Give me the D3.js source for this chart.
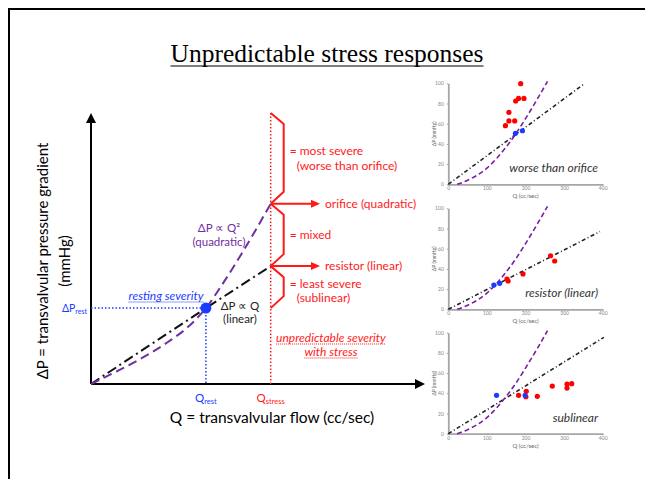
<!DOCTYPE html>
<html>
<head>
<meta charset="utf-8">
<script src="https://cdn.jsdelivr.net/npm/d3@7"></script>
<style>
  body { margin: 0; background: #fff; }
  svg { display: block; font-family: Lato, "Open Sans", sans-serif; }
</style>
</head>
<body>
<div id="chart"></div>
<script>
// ---- main schematic values (arbitrary units 0..100) ----
var qRest = 34.4, qStress = 53.8, pRest = 28;
var linearLine = [[0, 0], [34.4, 28], [53.8, 43.5]];
var quadCurve = [[0, 0], [7.6, 4.6], [15.3, 9.6], [22.9, 15.4], [29, 21], [34.4, 28], [39.7, 37.5], [45.8, 49.5], [53.8, 66.5]];
var braceBounds = [100, 66.5, 43.5, 28];
var braceLabels = [["= most severe", "(worse than orifice)"], ["= mixed"], ["= least severe", "(sublinear)"]];
var arrowLabels = ["orifice (quadratic)", "resistor (linear)"];

// ---- small patient panels (Q cc/sec, dP mmHg) ----
var panelNames = ["worse than orifice", "resistor (linear)", "sublinear"];
var restPoints = [
  [[174, 50.5], [192, 53]],
  [[118, 24], [133, 25.7]],
  [[125, 38], [199, 38]]
];
var stressPoints = [
  [[187.5, 99.6], [182, 85], [196, 85], [174.5, 82.5], [157, 71.3], [157, 62.7], [172, 62.7], [148, 58]],
  [[152, 30], [155, 28], [193.5, 35], [265, 53], [275.6, 47.8]],
  [[182, 38], [202, 42], [201, 36.6], [230.6, 37], [269.4, 47.2], [307.5, 49.2], [307.5, 45.2], [319.7, 49.5]]
];
var linearEnds = [[354, 100], [393, 77], [403, 95.4]];
var quadPoints = [[23, 0], [50, 4], [100, 16], [150, 37], [175, 50], [200, 65], [230, 84], [257, 102]];
var xTicks = [0, 100, 200, 300, 400];
var yTicks = [0, 20, 40, 60, 80, 100];

var W = 645, H = 479;
var red = "#ff1a1a", blue = "#1a3cff", purple = "#7030a0";

var svg = d3.select("#chart").append("svg")
  .attr("width", W).attr("height", H);

// slide frame
svg.append("path")
  .attr("d", "M9,479 V9 H645")
  .attr("fill", "none").attr("stroke", "#000").attr("stroke-width", 2);

// title
var title = svg.append("text")
  .attr("x", 327).attr("y", 62)
  .attr("text-anchor", "middle")
  .style("font-family", "'Liberation Serif', serif")
  .style("font-size", "25.5px")
  .text("Unpredictable stress responses");
var tw = title.node().getComputedTextLength();
svg.append("line")
  .attr("x1", 327 - tw / 2).attr("x2", 327 + tw / 2)
  .attr("y1", 66).attr("y2", 66)
  .attr("stroke", "#000").attr("stroke-width", 1.2);

// ---- main chart ----
var x = d3.scaleLinear().domain([0, 100]).range([91, 425]);
var y = d3.scaleLinear().domain([0, 100]).range([384, 113]);
var g = svg.append("g");

// arrows (axes)
g.append("line").attr("x1", x(0)).attr("y1", y(0)).attr("x2", x(0)).attr("y2", y(100) + 8)
  .attr("stroke", "#000").attr("stroke-width", 2);
g.append("path").attr("d", "M" + x(0) + "," + y(100) + " l-5,10 h10 z");
g.append("line").attr("x1", x(0)).attr("y1", y(0)).attr("x2", x(100) - 8).attr("y2", y(0))
  .attr("stroke", "#000").attr("stroke-width", 2);
g.append("path").attr("d", "M" + x(100) + "," + y(0) + " l-10,-5 v10 z");

// axis titles
g.append("text").attr("x", 272).attr("y", 423).attr("text-anchor", "middle")
  .style("font-size", "15.5px").text("Q = transvalvular flow (cc/sec)");
g.append("text").attr("transform", "translate(48,261) rotate(-90)").attr("text-anchor", "middle")
  .style("font-size", "15px").text("ΔP = transvalvular pressure gradient");
g.append("text").attr("transform", "translate(70,261) rotate(-90)").attr("text-anchor", "middle")
  .style("font-size", "15px").text("(mmHg)");

var line = d3.line().x(function(d) { return x(d[0]); }).y(function(d) { return y(d[1]); });

// rest guides
g.append("line").attr("x1", x(0)).attr("x2", x(qRest)).attr("y1", y(pRest)).attr("y2", y(pRest))
  .attr("stroke", blue).attr("stroke-width", 1.5).attr("stroke-dasharray", "1.5,2");
g.append("line").attr("x1", x(qRest)).attr("x2", x(qRest)).attr("y1", y(pRest)).attr("y2", y(0))
  .attr("stroke", blue).attr("stroke-width", 1.5).attr("stroke-dasharray", "1.5,2");

// stress line
g.append("line").attr("x1", x(qStress)).attr("x2", x(qStress)).attr("y1", y(100)).attr("y2", y(0))
  .attr("stroke", red).attr("stroke-width", 1.5).attr("stroke-dasharray", "1.5,2");

// curves
g.append("path").datum(linearLine).attr("d", line)
  .attr("fill", "none").attr("stroke", "#111").attr("stroke-width", 2)
  .attr("stroke-dasharray", "10,4,2,4");
g.append("path").datum(quadCurve).attr("d", line.curve(d3.curveMonotoneX))
  .attr("fill", "none").attr("stroke", purple).attr("stroke-width", 2)
  .attr("stroke-dasharray", "9,5");

g.append("circle").attr("cx", x(qRest)).attr("cy", y(pRest)).attr("r", 5.5).attr("fill", blue);

// curve labels
g.append("text").attr("x", 219).attr("y", 232).attr("text-anchor", "middle").attr("fill", purple)
  .style("font-size", "11.5px").text("ΔP ∝ Q²");
g.append("text").attr("x", 219).attr("y", 246).attr("text-anchor", "middle").attr("fill", purple)
  .style("font-size", "11.5px").text("(quadratic)");
g.append("text").attr("x", 240).attr("y", 310).attr("text-anchor", "middle").attr("fill", "#222")
  .style("font-size", "11.5px").text("ΔP ∝ Q");
g.append("text").attr("x", 240).attr("y", 323).attr("text-anchor", "middle").attr("fill", "#222")
  .style("font-size", "11.5px").text("(linear)");

// rest labels
function underlined(txt, cx, cy, color, anchor) {
  var t = g.append("text").attr("x", cx).attr("y", cy).attr("text-anchor", anchor || "middle")
    .attr("fill", color).style("font-size", "12px").style("font-style", "italic").text(txt);
  var b = t.node().getBBox();
  g.append("line").attr("x1", b.x).attr("x2", b.x + b.width).attr("y1", cy + 2).attr("y2", cy + 2)
    .attr("stroke", color).attr("stroke-width", 1).attr("stroke-dasharray", "1,1");
}
underlined("resting severity", 166, 300, blue);

var lp = g.append("text").attr("x", 87).attr("y", 312).attr("text-anchor", "end").attr("fill", blue)
  .style("font-size", "10.5px");
lp.append("tspan").text("ΔP");
lp.append("tspan").attr("dy", 2).style("font-size", "7px").text("rest");

var lq = g.append("text").attr("x", x(qRest)).attr("y", 402).attr("text-anchor", "middle").attr("fill", blue)
  .style("font-size", "11.5px");
lq.append("tspan").text("Q");
lq.append("tspan").attr("dy", 2).style("font-size", "7.5px").text("rest");

var ls = g.append("text").attr("x", x(qStress)).attr("y", 402).attr("text-anchor", "middle").attr("fill", red)
  .style("font-size", "11.5px");
ls.append("tspan").text("Q");
ls.append("tspan").attr("dy", 2).style("font-size", "7.5px").text("stress");

// braces
var xs = x(qStress);
var labelShift = [0, 0, 4];
braceLabels.forEach(function(lines, i) {
  var y0 = y(braceBounds[i]), y1 = y(braceBounds[i + 1]);
  g.append("path")
    .attr("d", "M" + xs + "," + y0 + " L" + (xs + 13) + "," + (y0 + 11) + " V" + (y1 - 12) + " L" + xs + "," + y1)
    .attr("fill", "none").attr("stroke", red).attr("stroke-width", 2);
  var mid = (y0 + y1) / 2 + labelShift[i];
  lines.forEach(function(s, j) {
    g.append("text")
      .attr("x", j === 0 ? xs + 19 : xs + 26)
      .attr("y", mid + 4 + (j - (lines.length - 1) / 2) * 14.5)
      .attr("fill", red).style("font-size", "12px").text(s);
  });
});
// arrows to labels
arrowLabels.forEach(function(s, i) {
  var yy = y(braceBounds[i + 1]);
  g.append("line").attr("x1", xs).attr("x2", 313).attr("y1", yy).attr("y2", yy)
    .attr("stroke", red).attr("stroke-width", 2);
  g.append("path").attr("d", "M320," + yy + " l-9,-4 v8 z").attr("fill", red);
  g.append("text").attr("x", 325).attr("y", yy + 4).attr("fill", red).style("font-size", "12px").text(s);
});
underlined("unpredictable severity", 331, 342, red);
underlined("with stress", 331, 356, red);

// ---- small panels ----
var px = d3.scaleLinear().domain([0, 400]).range([448.3, 602.7]);
var bottoms = [184.3, 309.3, 433.7];

bottoms.forEach(function(b, k) {
  var py = d3.scaleLinear().domain([0, 100]).range([b, b - 101]);
  var p = svg.append("g");

  p.append("g").attr("transform", "translate(0," + b + ")")
    .call(d3.axisBottom(px).tickValues(xTicks).tickSize(1.5).tickSizeOuter(0))
    .call(function(a) {
      a.select(".domain").attr("stroke", "#a6a6a6").attr("stroke-width", 1.8);
      a.selectAll(".tick line").attr("stroke", "#a6a6a6");
      a.selectAll("text").attr("fill", "#888").style("font-size", "5px").attr("dy", "0.3em")
        .style("font-family", "Lato, sans-serif");
    });
  p.append("g").attr("transform", "translate(" + px(0) + ",0)")
    .call(d3.axisLeft(py).tickValues(yTicks).tickSize(1.5).tickSizeOuter(0))
    .call(function(a) {
      a.select(".domain").attr("stroke", "#a6a6a6").attr("stroke-width", 1.8);
      a.selectAll(".tick line").attr("stroke", "#a6a6a6");
      a.selectAll("text").attr("fill", "#888").style("font-size", "5px")
        .style("font-family", "Lato, sans-serif");
    });

  p.append("text").attr("x", px(200)).attr("y", b + 14).attr("text-anchor", "middle")
    .attr("fill", "#666").style("font-size", "6px").text("Q (cc/sec)");
  p.append("text").attr("transform", "translate(436," + py(50) + ") rotate(-90)").attr("text-anchor", "middle")
    .attr("fill", "#666").style("font-size", "5px").text("ΔP (mmHg)");

  var pl = d3.line().x(function(d) { return px(d[0]); }).y(function(d) { return py(d[1]); });
  p.append("path").datum([[0, 0], linearEnds[k]]).attr("d", pl)
    .attr("fill", "none").attr("stroke", "#222").attr("stroke-width", 1.6)
    .attr("stroke-dasharray", "4,2.5,1,2.5");
  p.append("path").datum(quadPoints).attr("d", pl.curve(d3.curveMonotoneX))
    .attr("fill", "none").attr("stroke", "#7a1fa2").attr("stroke-width", 1.6)
    .attr("stroke-dasharray", "5,3");

  p.selectAll(".red").data(stressPoints[k]).enter().append("circle")
    .attr("cx", function(d) { return px(d[0]); }).attr("cy", function(d) { return py(d[1]); })
    .attr("r", 2.6).attr("fill", "#ff0000");
  p.selectAll(".blue").data(restPoints[k]).enter().append("circle")
    .attr("cx", function(d) { return px(d[0]); }).attr("cy", function(d) { return py(d[1]); })
    .attr("r", 2.6).attr("fill", blue);

  p.append("text").attr("x", 598).attr("y", b - 12).attr("text-anchor", "end")
    .attr("fill", "#333").style("font-size", "12px").style("font-style", "italic").text(panelNames[k]);
});
</script>
</body>
</html>
